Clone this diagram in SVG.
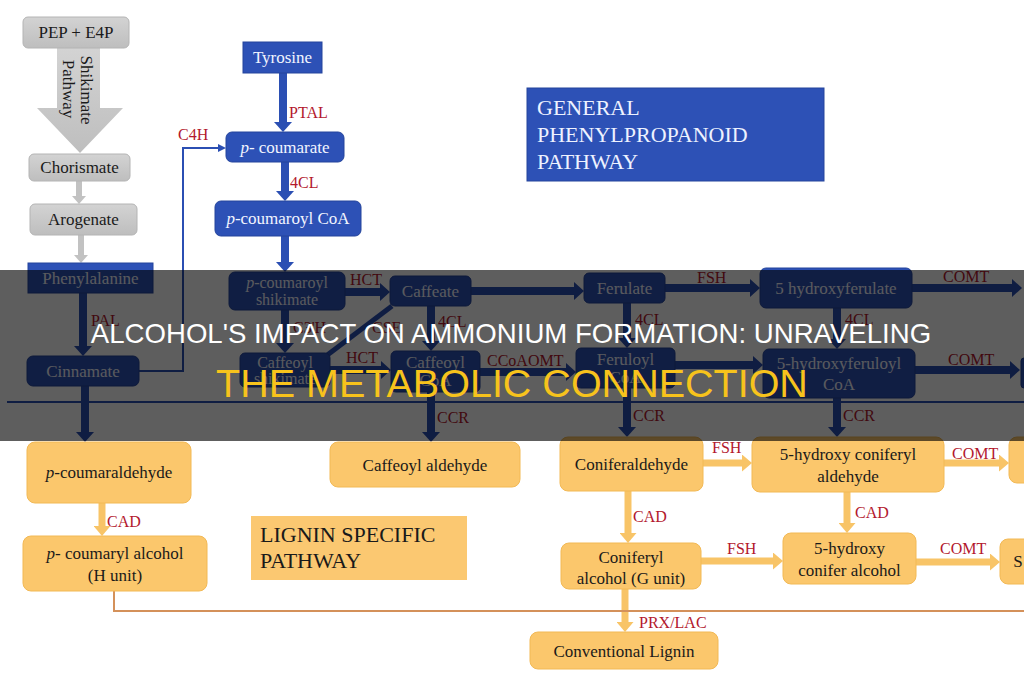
<svg xmlns="http://www.w3.org/2000/svg" width="1024" height="680" viewBox="0 0 1024 680">
<defs>
<style>
.bl{fill:#2d51b6;stroke:#24449c;stroke-width:1}
.gr{fill:url(#gg);stroke:#b4b4b4;stroke-width:1}
.ye{fill:#fbc76c;stroke:#f2b955;stroke-width:1}
.tw{font-family:"Liberation Serif",serif;font-size:17px;fill:#f2f5ff;text-anchor:middle}
.tb{font-family:"Liberation Serif",serif;font-size:17px;fill:#1a1a1a;text-anchor:middle}
.sm{font-size:16px}
.lab{font-family:"Liberation Serif",serif;font-size:16px;fill:#b3182d}
.hd{font-family:"Liberation Serif",serif;font-size:22px}
.cb{stroke:#2b4fb3;stroke-width:8;fill:none;marker-end:url(#mB)}
.cg{stroke:#c2c2c2;stroke-width:6;fill:none;marker-end:url(#mG)}
.cy{stroke:#f8c467;stroke-width:7;fill:none;marker-end:url(#mY)}
.title{font-family:"Liberation Sans",Arial,sans-serif;text-anchor:middle}
</style>
<linearGradient id="gg" x1="0" y1="0" x2="0" y2="1"><stop offset="0" stop-color="#d3d3d3"/><stop offset="1" stop-color="#bebebe"/></linearGradient>
<marker id="mB" markerUnits="userSpaceOnUse" markerWidth="10" markerHeight="18" refX="0" refY="9" orient="auto"><path d="M0,0 L10,9 L0,18 z" fill="#2b4fb3"/></marker>
<marker id="mBs" markerUnits="userSpaceOnUse" markerWidth="8" markerHeight="8" refX="0" refY="4" orient="auto"><path d="M0,0 L8,4 L0,8 z" fill="#2b4fb3"/></marker>
<marker id="mG" markerUnits="userSpaceOnUse" markerWidth="8" markerHeight="14" refX="0" refY="7" orient="auto"><path d="M0,0 L8,7 L0,14 z" fill="#c2c2c2"/></marker>
<marker id="mY" markerUnits="userSpaceOnUse" markerWidth="10" markerHeight="17" refX="0" refY="8.5" orient="auto"><path d="M0,0 L10,8.5 L0,17 z" fill="#f8c467"/></marker>
</defs>
<rect width="1024" height="680" fill="#ffffff"/>

<g id="connectors">
<polygon points="57,48 100,48 100,108 123,108 80,153 37,108 57,108" fill="url(#gg)"/>
<line class="cg" x1="79" y1="181" x2="79" y2="196"/>
<line class="cg" x1="81" y1="235" x2="81" y2="255"/>
<line class="cb" x1="283" y1="73" x2="283" y2="122"/>
<line class="cb" x1="285" y1="162" x2="285" y2="191"/>
<line class="cb" x1="285" y1="236" x2="285" y2="262"/>
<line class="cb" x1="83" y1="293" x2="83" y2="346"/>
<line class="cb" x1="85" y1="386" x2="85" y2="432"/>
<path d="M139,371 H183 V148 H218" stroke="#2b4fb3" stroke-width="2" fill="none" marker-end="url(#mBs)"/>
<line class="cb" x1="345" y1="292" x2="380" y2="292"/>
<line class="cb" x1="285" y1="310" x2="285" y2="343"/>
<line x1="326" y1="356" x2="392" y2="306" stroke="#2b4fb3" stroke-width="5"/>
<line class="cb" x1="330" y1="370" x2="381" y2="370"/>
<line class="cb" x1="431" y1="306" x2="431" y2="341"/>
<line class="cb" x1="471" y1="291" x2="574" y2="291"/>
<line class="cb" x1="480" y1="372" x2="566" y2="372"/>
<line class="cb" x1="627" y1="303" x2="627" y2="338"/>
<line class="cb" x1="665" y1="288" x2="750" y2="288"/>
<line class="cb" x1="912" y1="288" x2="1012" y2="288"/>
<line class="cb" x1="837" y1="308" x2="837" y2="339"/>
<line class="cb" x1="675" y1="365" x2="753" y2="365"/>
<line class="cb" x1="915" y1="370" x2="1010" y2="370"/>
<line class="cb" x1="431" y1="392" x2="431" y2="432"/>
<line class="cb" x1="627" y1="388" x2="627" y2="427"/>
<line class="cb" x1="837" y1="398" x2="837" y2="427"/>
<line x1="7" y1="402" x2="1024" y2="402" stroke="#2b4fb3" stroke-width="2"/>
<line class="cy" x1="102" y1="503" x2="102" y2="526"/>
<line class="cy" x1="703" y1="463" x2="742" y2="463"/>
<line class="cy" x1="944" y1="463" x2="999" y2="463"/>
<line class="cy" x1="628" y1="491" x2="628" y2="533"/>
<line class="cy" x1="847" y1="492" x2="847" y2="523"/>
<line class="cy" x1="701" y1="561" x2="773" y2="561"/>
<line class="cy" x1="916" y1="562" x2="990" y2="562"/>
<line class="cy" x1="625" y1="589" x2="625" y2="622"/>
<path d="M114,591 V611 H1024" stroke="#d4915a" stroke-width="2" fill="none"/>
<text class="lab" x="289" y="118">PTAL</text>
<text class="lab" x="290" y="188">4CL</text>
<text class="lab" x="178" y="140">C4H</text>
<text class="lab" x="91" y="326">PAL</text>
<text class="lab" x="350" y="285">HCT</text>
<text class="lab" x="293" y="333">C3'H</text>
<text class="lab" x="372" y="333">CSE</text>
<text class="lab" x="346" y="363">HCT</text>
<text class="lab" x="438" y="327">4CL</text>
<text class="lab" x="487" y="366">CCoAOMT</text>
<text class="lab" x="635" y="325">4CL</text>
<text class="lab" x="697" y="283">FSH</text>
<text class="lab" x="943" y="282">COMT</text>
<text class="lab" x="845" y="325">4CL</text>
<text class="lab" x="948" y="365">COMT</text>
<text class="lab" x="437" y="423">CCR</text>
<text class="lab" x="633" y="421">CCR</text>
<text class="lab" x="843" y="421">CCR</text>
<text class="lab" x="107" y="527">CAD</text>
<text class="lab" x="712" y="453">FSH</text>
<text class="lab" x="952" y="459">COMT</text>
<text class="lab" x="633" y="522">CAD</text>
<text class="lab" x="855" y="518">CAD</text>
<text class="lab" x="727" y="554">FSH</text>
<text class="lab" x="940" y="554">COMT</text>
<text class="lab" x="639" y="628">PRX/LAC</text>
<text class="tb" transform="translate(81,90) rotate(90)">Shikimate</text>
<text class="tb" transform="translate(63,89) rotate(90)">Pathway</text>
</g>

<g id="n-pep"><rect class="gr" x="23" y="17" width="106" height="31" rx="5"/><text class="tb" x="76" y="38">PEP + E4P</text></g>
<g id="n-chor"><rect class="gr" x="29" y="154" width="101" height="27" rx="5"/><text class="tb" x="79.5" y="173">Chorismate</text></g>
<g id="n-aro"><rect class="gr" x="30" y="204" width="107" height="31" rx="5"/><text class="tb" x="83.5" y="225">Arogenate</text></g>
<g id="n-tyr"><rect class="bl" x="243" y="42" width="79" height="31"/><text class="tw" x="282.5" y="63">Tyrosine</text></g>
<g id="n-general"><rect class="bl" x="527" y="88" width="297" height="93"/><text class="hd" fill="#eef2ff" x="537" y="115">GENERAL</text><text class="hd" fill="#eef2ff" x="537" y="142">PHENYLPROPANOID</text><text class="hd" fill="#eef2ff" x="537" y="169">PATHWAY</text></g>
<g id="n-pcoum"><rect class="bl" x="226" y="132" width="118" height="30" rx="6"/><text class="tw" x="285" y="153"><tspan font-style="italic">p</tspan>- coumarate</text></g>
<g id="n-pcoa"><rect class="bl" x="215" y="201" width="146" height="35" rx="6"/><text class="tw" x="288" y="224"><tspan font-style="italic">p</tspan>-coumaroyl CoA</text></g>
<g id="n-phe"><rect class="bl" x="28" y="263" width="125" height="30"/><text class="tw" x="90.5" y="284">Phenylalanine</text></g>
<g id="n-pcs"><rect class="bl" x="229" y="272" width="116" height="38" rx="6"/><text class="tw sm" x="287" y="288"><tspan font-style="italic">p</tspan>-coumaroyl</text><text class="tw sm" x="287" y="305">shikimate</text></g>
<g id="n-caffeate"><rect class="bl" x="390" y="276" width="81" height="30" rx="5"/><text class="tw" x="430.5" y="297">Caffeate</text></g>
<g id="n-ferulate"><rect class="bl" x="584" y="273" width="81" height="30" rx="5"/><text class="tw" x="624.5" y="294">Ferulate</text></g>
<g id="n-5hf"><rect class="bl" x="760" y="268" width="152" height="40" rx="6"/><text class="tw" x="836" y="294">5 hydroxyferulate</text></g>
<g id="n-cinn"><rect class="bl" x="27" y="356" width="112" height="30" rx="6"/><text class="tw" x="83" y="377">Cinnamate</text></g>
<g id="n-cs"><rect class="bl" x="240" y="353" width="90" height="34" rx="5"/><text class="tw sm" x="285" y="368">Caffeoyl</text><text class="tw sm" x="285" y="384">shikimate</text></g>
<g id="n-ccoa"><rect class="bl" x="391" y="351" width="89" height="41" rx="5"/><text class="tw" x="435.5" y="368">Caffeoyl</text><text class="tw" x="435.5" y="386">CoA</text></g>
<g id="n-fcoa"><rect class="bl" x="576" y="348" width="99" height="40" rx="5"/><text class="tw" x="625.5" y="365">Feruloyl</text><text class="tw" x="625.5" y="383">CoA</text></g>
<g id="n-5hfcoa"><rect class="bl" x="763" y="349" width="152" height="49" rx="6"/><text class="tw" x="839" y="369">5-hydroxyferuloyl</text><text class="tw" x="839" y="390">CoA</text></g>
<g id="n-edge1"><rect class="bl" x="1021" y="358" width="12" height="30" rx="3"/></g>

<g id="n-pcald"><rect class="ye" x="27" y="442" width="164" height="61" rx="8"/><text class="tb" x="109" y="478"><tspan font-style="italic">p</tspan>-coumaraldehyde</text></g>
<g id="n-pcalc"><rect class="ye" x="23" y="536" width="184" height="55" rx="8"/><text class="tb" x="115" y="559"><tspan font-style="italic">p</tspan>- coumaryl alcohol</text><text class="tb" x="115" y="581">(H unit)</text></g>
<g id="n-caald"><rect class="ye" x="330" y="442" width="190" height="45" rx="8"/><text class="tb" x="425" y="471">Caffeoyl aldehyde</text></g>
<g id="n-lignin"><rect x="251" y="516" width="216" height="64" fill="#fbc871"/><text class="hd" fill="#1a1a1a" x="260" y="542">LIGNIN SPECIFIC</text><text class="hd" fill="#1a1a1a" x="260" y="568">PATHWAY</text></g>
<g id="n-conald"><rect class="ye" x="560" y="437" width="143" height="54" rx="8"/><text class="tb" x="631.5" y="470">Coniferaldehyde</text></g>
<g id="n-5hcald"><rect class="ye" x="752" y="437" width="192" height="55" rx="8"/><text class="tb" x="848" y="460">5-hydroxy coniferyl</text><text class="tb" x="848" y="482">aldehyde</text></g>
<g id="n-edge2"><rect class="ye" x="1009" y="437" width="30" height="46" rx="8"/></g>
<g id="n-conalc"><rect class="ye" x="561" y="543" width="140" height="46" rx="8"/><text class="tb" x="631" y="563">Coniferyl</text><text class="tb" x="631" y="584">alcohol (G unit)</text></g>
<g id="n-5hcalc"><rect class="ye" x="783" y="533" width="133" height="51" rx="8"/><text class="tb" x="849.5" y="554">5-hydroxy</text><text class="tb" x="849.5" y="576">conifer alcohol</text></g>
<g id="n-edge3"><rect class="ye" x="1000" y="539" width="40" height="45" rx="8"/><text class="tb" x="1018" y="567" text-anchor="start">S</text></g>
<g id="n-conv"><rect class="ye" x="530" y="632" width="188" height="37" rx="8"/><text class="tb" x="624" y="657">Conventional Lignin</text></g>

<g id="banner">
<rect x="0" y="270" width="1024" height="171" fill="#000000" fill-opacity="0.63"/>
<text class="title" x="511" y="343" font-size="27.6" fill="#ffffff">ALCOHOL'S IMPACT ON AMMONIUM FORMATION: UNRAVELING</text>
<text class="title" x="512" y="397" font-size="39.5" fill="#f7c31c">THE METABOLIC CONNECTION</text>
</g>
</svg>
